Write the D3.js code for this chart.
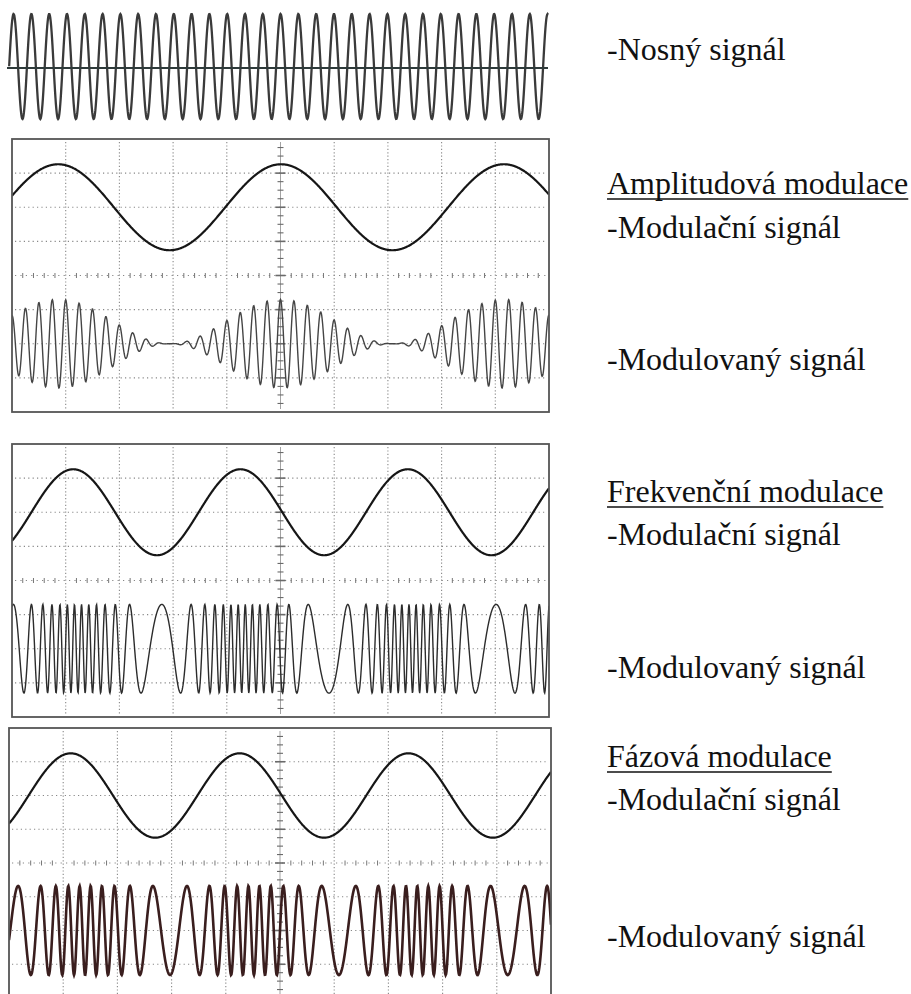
<!DOCTYPE html>
<html><head><meta charset="utf-8">
<script src="https://cdn.jsdelivr.net/npm/d3@7/dist/d3.min.js"></script>
<style>html,body{margin:0;padding:0;background:#fff}svg{display:block}</style>
</head><body>
<script>
// ---------------- DATA (in oscilloscope divisions) ----------------
const panelKeys      = ["am", "fm", "pm"];
// top carrier signal
const carrierPeriod    = 0.329;   // divisions per cycle
const carrierFirstPeak = 0.122;
const carrierAmplitude = 1;
// modulating signals (upper trace of each scope)
const modPeriod    = [4.15, 3.115, 3.115];
const modPeak      = [0.86, 1.14, 1.14];
const modOffset    = [2, 2, 2];
const modAmplitude = [1.26, 1.26, 1.25];
// modulated signals (lower trace of each scope)
const sigOffset        = [-2, -2, -2];
const sigAmplitude     = [1.30, 1.30, 1.32];
const sigCarrierPeriod = [0.25, 0.2307, 0.3115];
const sigRefPeak       = [5.0, 2.79, 5.77];
const sigDevCenter     = [0, 1.19, 1.40];
const sigBeta          = [0, 10.2, 5.4];
// labels
const labelTexts = ["-Nosný signál", "Amplitudová modulace", "-Modulační signál", "-Modulovaný signál",
                    "Frekvenční modulace", "-Modulační signál", "-Modulovaný signál",
                    "Fázová modulace", "-Modulační signál", "-Modulovaný signál"];
const labelUnderlined = [false, true, false, false, true, false, false, true, false, false];

// ---------------- LAYOUT ----------------
const W = 911, H = 994;
const boxes = {
  am: {x0: 12, x1: 549, y0: 139, y1: 412},
  fm: {x0: 12, x1: 549, y0: 444, y1: 717},
  pm: {x0: 9,  x1: 551, y0: 728, y1: 998}
};
const labelX = 607;
const labelBaselines = [60, 194, 238, 370, 502, 545, 678, 767, 810, 947];
const fontSize = 32;
const serif = "Liberation Serif, Times New Roman, Times, serif";

const svg = d3.select("body").append("svg").attr("width", W).attr("height", H);

const step = 0.008;
const xsAll = d3.range(0, 10 + step / 2, step);

// ---------------- CARRIER ----------------
{
  const x = d3.scaleLinear().domain([0, 10]).range([7, 548]);
  const y = d3.scaleLinear().domain([-1, 1]).range([119, 14]);
  const start = carrierFirstPeak - carrierPeriod / 4;
  const pts = xsAll.filter(t => t >= start)
    .map(t => [t, carrierAmplitude * Math.cos(2 * Math.PI * (t - carrierFirstPeak) / carrierPeriod)]);
  svg.append("path").datum(pts)
    .attr("d", d3.line().x(d => x(d[0])).y(d => y(d[1])))
    .attr("fill", "none").attr("stroke", "#3a3a3a").attr("stroke-width", 2.3);
  svg.append("line").attr("x1", x(0)).attr("x2", x(10)).attr("y1", y(0) + 1.5).attr("y2", y(0) + 1.5)
    .attr("stroke", "#2e3a3a").attr("stroke-width", 2);
}

// ---------------- SCOPES ----------------
function drawScope(i) {
  const b = boxes[panelKeys[i]];
  const x = d3.scaleLinear().domain([0, 10]).range([b.x0, b.x1]);
  const y = d3.scaleLinear().domain([-4, 4]).range([b.y1, b.y0]);
  const g = svg.append("g");
  const clipId = "clip-" + panelKeys[i];
  g.append("clipPath").attr("id", clipId).append("rect")
    .attr("x", b.x0).attr("y", b.y0).attr("width", b.x1 - b.x0).attr("height", b.y1 - b.y0);

  const gridCol = "#888";
  g.selectAll(".vg").data(d3.range(1, 10).filter(v => v !== 5)).join("line")
    .attr("x1", d => x(d)).attr("x2", d => x(d)).attr("y1", y(4) + 3).attr("y2", y(-4) - 3)
    .attr("stroke", gridCol).attr("stroke-width", 1.1).attr("stroke-dasharray", "1.2,2.2");
  g.selectAll(".hg").data(d3.range(-3, 4).filter(v => v !== 0)).join("line")
    .attr("y1", d => y(d)).attr("y2", d => y(d)).attr("x1", x(0) + 3).attr("x2", x(10) - 3)
    .attr("stroke", gridCol).attr("stroke-width", 1.1).attr("stroke-dasharray", "1.2,3.2");
  g.append("line").attr("y1", y(0)).attr("y2", y(0)).attr("x1", x(0) + 3).attr("x2", x(10) - 3)
    .attr("stroke", gridCol).attr("stroke-width", 1.1).attr("stroke-dasharray", "1.2,4.2");
  const hMinor = d3.range(1, 50).map(k => k / 5).filter(v => Math.abs(v - Math.round(v)) > 1e-6);
  g.selectAll(".ht").data(hMinor).join("line")
    .attr("x1", d => x(d)).attr("x2", d => x(d)).attr("y1", y(0) - 2.5).attr("y2", y(0) + 2.5)
    .attr("stroke", "#777").attr("stroke-width", 1);
  g.append("line").attr("x1", x(5)).attr("x2", x(5)).attr("y1", y(4) + 3).attr("y2", y(-4) - 3)
    .attr("stroke", "#999").attr("stroke-width", 0.9);
  const vMinor = d3.range(-15, 16).map(k => k / 4);
  g.selectAll(".vt").data(vMinor).join("line")
    .attr("y1", d => y(d)).attr("y2", d => y(d))
    .attr("x1", d => x(5) - (Number.isInteger(d) ? 5 : 3)).attr("x2", d => x(5) + (Number.isInteger(d) ? 5 : 3))
    .attr("stroke", "#6a6a6a").attr("stroke-width", d => Number.isInteger(d) ? 1.6 : 1.1);

  const line = d3.line().x(d => x(d[0])).y(d => y(d[1]));
  const mod = t => Math.cos(2 * Math.PI * (t - modPeak[i]) / modPeriod[i]);
  const modPts = xsAll.map(t => [t, modOffset[i] + modAmplitude[i] * mod(t)]);
  g.append("path").datum(modPts).attr("d", line).attr("clip-path", `url(#${clipId})`)
    .attr("fill", "none").attr("stroke", "#161616").attr("stroke-width", 2.2);

  let f;
  if (panelKeys[i] === "am") {
    f = t => sigAmplitude[i] * (1 + mod(t)) / 2 * Math.cos(2 * Math.PI * (t - sigRefPeak[i]) / sigCarrierPeriod[i]);
  } else {
    const P = modPeriod[i], xd = sigDevCenter[i], beta = sigBeta[i];
    const s0 = Math.sin(2 * Math.PI * (sigRefPeak[i] - xd) / P);
    f = t => sigAmplitude[i] * Math.cos(2 * Math.PI * (t - sigRefPeak[i]) / sigCarrierPeriod[i]
                                        + beta * (Math.sin(2 * Math.PI * (t - xd) / P) - s0));
  }
  const sigPts = xsAll.map(t => [t, sigOffset[i] + f(t)]);
  const sigStyle = {am: ["#454545", 1.4], fm: ["#2c2c2c", 1.4], pm: ["#3a1e1e", 2.6]}[panelKeys[i]];
  g.append("path").datum(sigPts).attr("d", line).attr("clip-path", `url(#${clipId})`)
    .attr("fill", "none").attr("stroke", sigStyle[0]).attr("stroke-width", sigStyle[1]);

  g.append("rect").attr("x", b.x0).attr("y", b.y0).attr("width", b.x1 - b.x0).attr("height", b.y1 - b.y0)
    .attr("fill", "none").attr("stroke", "#555").attr("stroke-width", 1.8);
}
panelKeys.forEach((k, i) => drawScope(i));

// ---------------- LABELS ----------------
labelTexts.forEach((txt, i) => {
  const t = svg.append("text").attr("x", labelX).attr("y", labelBaselines[i])
    .attr("font-family", serif).attr("font-size", fontSize).attr("fill", "#111").text(txt);
  if (labelUnderlined[i]) {
    const w = t.node().getComputedTextLength();
    svg.append("line").attr("x1", labelX).attr("x2", labelX + w)
      .attr("y1", labelBaselines[i] + 5).attr("y2", labelBaselines[i] + 5)
      .attr("stroke", "#111").attr("stroke-width", 1.5);
  }
});
</script>
</body></html>
